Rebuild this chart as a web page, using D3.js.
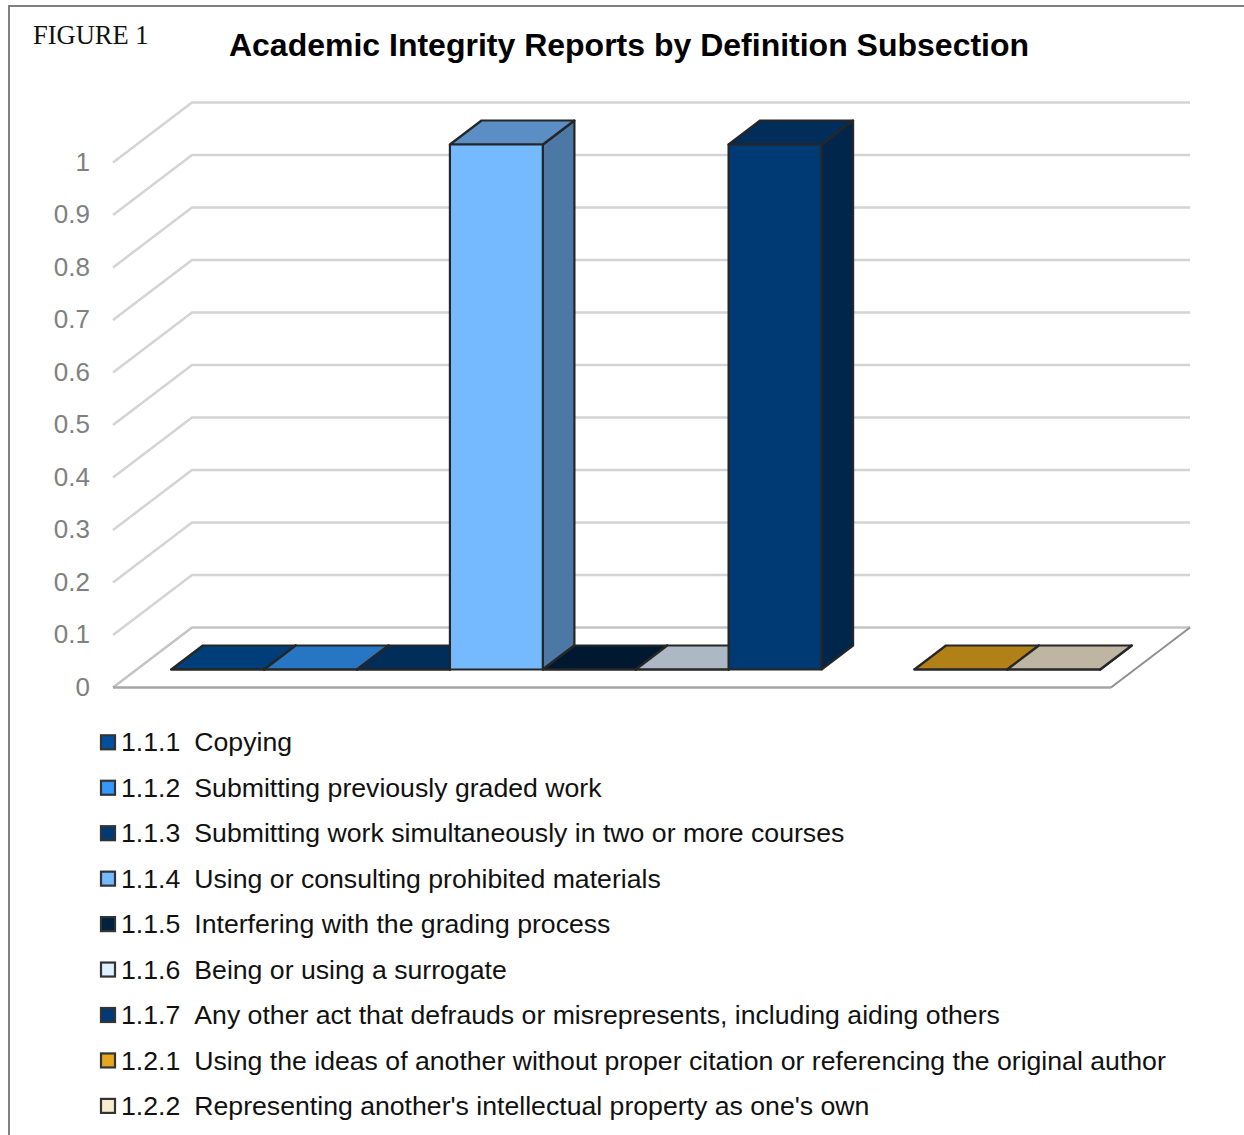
<!DOCTYPE html>
<html>
<head>
<meta charset="utf-8">
<script src="https://cdn.jsdelivr.net/npm/d3@7"></script>
<style>
  html, body { margin: 0; padding: 0; background: #fff; }
  svg { display: block; }
</style>
</head>
<body>
<div id="chart"></div>
<script>
// "" is the empty slot between 1.1.7 and 1.2.1
const slots = ["1.1.1", "1.1.2", "1.1.3", "1.1.4", "1.1.5", "1.1.6", "1.1.7", "", "1.2.1", "1.2.2"];
const codes = ["1.1.1", "1.1.2", "1.1.3", "1.1.4", "1.1.5", "1.1.6", "1.1.7", "1.2.1", "1.2.2"];
const values = [0, 0, 0, 1, 0, 0, 1, 0, 0];
const labels = [
  "Copying",
  "Submitting previously graded work",
  "Submitting work simultaneously in two or more courses",
  "Using or consulting prohibited materials",
  "Interfering with the grading process",
  "Being or using a surrogate",
  "Any other act that defrauds or misrepresents, including aiding others",
  "Using the ideas of another without proper citation or referencing the original author",
  "Representing another's intellectual property as one's own"
];
const colors = ["#00509e", "#3399ff", "#003a75", "#75b9ff", "#00213f", "#e0f0ff", "#003a75", "#e6a71f", "#f7ecd2"];
const ticks = [0, 0.1, 0.2, 0.3, 0.4, 0.5, 0.6, 0.7, 0.8, 0.9, 1];

const width = 1244, height = 1135;
const floor = { left: 113, right: 1111, front: 687.5, dx: 79, dy: -60 };
const sans = "'Liberation Sans', Arial, sans-serif";

const svg = d3.select("#chart").append("svg")
  .attr("width", width)
  .attr("height", height);

// page frame, no right or bottom side in the picture
svg.append("path")
  .attr("d", `M9,${height}V6H${width}`)
  .attr("fill", "none")
  .attr("stroke", "#7f7f7f")
  .attr("stroke-width", 2);

svg.append("text")
  .attr("x", 33)
  .attr("y", 44)
  .attr("font-family", "'Liberation Serif', 'Times New Roman', serif")
  .attr("font-size", 26.5)
  .attr("fill", "#111")
  .text("FIGURE 1");

svg.append("text")
  .attr("x", 629)
  .attr("y", 56)
  .attr("text-anchor", "middle")
  .attr("font-family", sans)
  .attr("font-weight", "bold")
  .attr("font-size", 32)
  .attr("fill", "#000")
  .text("Academic Integrity Reports by Definition Subsection");

const x = d3.scaleBand()
  .domain(slots)
  .range([floor.left, floor.right])
  .paddingInner(0)
  .paddingOuter(0.372);
const y = d3.scaleLinear()
  .domain([0, 1])
  .range([floor.front, 162.5]);

// depth 0 is the front edge of the floor, depth 1 the back wall
const proj = (px, v, depth) => [px + depth * floor.dx, y(v) + depth * floor.dy];
const line = d3.line();

// gridlines, side wall then back wall
const grid = svg.append("g")
  .attr("fill", "none")
  .attr("stroke-width", 2.5);
grid.selectAll("path")
  .data(ticks)
  .join("path")
  .attr("d", d => line([proj(floor.left, d, 0), proj(floor.left, d, 1), proj(floor.right, d, 1)]))
  .attr("stroke", d => d === 0 ? "#c4c4c4" : "#d4d4d4");

// floor edges
svg.append("path")
  .attr("d", line([proj(floor.left, 0, 0), proj(floor.right, 0, 0)]))
  .attr("stroke", "#a6a6a6")
  .attr("stroke-width", 2.5);
svg.append("path")
  .attr("d", line([proj(floor.right, 0, 0), proj(floor.right, 0, 1)]))
  .attr("stroke", "#8f8f8f")
  .attr("stroke-width", 2);

// y axis labels
const yAxis = d3.axisLeft(y)
  .tickValues(ticks)
  .tickSize(0)
  .tickPadding(23)
  .tickFormat(d => String(d));
svg.append("g")
  .attr("transform", `translate(${floor.left},-0.5)`)
  .call(yAxis)
  .call(g => g.select(".domain").remove())
  .call(g => g.selectAll("text")
    .attr("font-family", sans)
    .attr("font-size", 26)
    .attr("fill", "#808080"));

// bars, left to right so each bar sits over the tile before it
const shade = (c, k) => {
  const r = d3.rgb(c);
  return d3.rgb(r.r * k, r.g * k, r.b * k).formatHex();
};
const bars = svg.append("g")
  .attr("stroke", "#262626")
  .attr("stroke-width", 2.2)
  .attr("stroke-linejoin", "round");
codes.forEach((code, i) => {
  const x0 = x(code), x1 = x(code) + x.bandwidth(), v = values[i];
  const g = bars.append("g");
  // right side
  g.append("path")
    .attr("d", line([proj(x1, 0, 0.3), proj(x1, 0, 0.7), proj(x1, v, 0.7), proj(x1, v, 0.3)]) + "Z")
    .attr("fill", shade(colors[i], 0.65));
  // top
  g.append("path")
    .attr("d", line([proj(x0, v, 0.3), proj(x1, v, 0.3), proj(x1, v, 0.7), proj(x0, v, 0.7)]) + "Z")
    .attr("fill", shade(colors[i], 0.77));
  // front
  g.append("path")
    .attr("d", line([proj(x0, 0, 0.3), proj(x1, 0, 0.3), proj(x1, v, 0.3), proj(x0, v, 0.3)]) + "Z")
    .attr("fill", colors[i]);
});

// legend
const legendY = d3.scalePoint()
  .domain(codes)
  .range([742.3, 1105.9]);
const legend = svg.append("g")
  .attr("font-family", sans)
  .attr("font-size", 26.65)
  .attr("fill", "#111");
const rows = legend.selectAll("g")
  .data(codes)
  .join("g")
  .attr("transform", d => `translate(0,${legendY(d)})`);
rows.append("rect")
  .attr("x", 101)
  .attr("y", -7)
  .attr("width", 14)
  .attr("height", 14)
  .attr("fill", (d, i) => colors[i])
  .attr("stroke", "#333")
  .attr("stroke-width", 2.2);
rows.append("text")
  .attr("x", 121)
  .attr("dy", "0.34em")
  .text(d => d);
rows.append("text")
  .attr("x", 194.3)
  .attr("dy", "0.34em")
  .text((d, i) => labels[i]);
</script>
</body>
</html>
